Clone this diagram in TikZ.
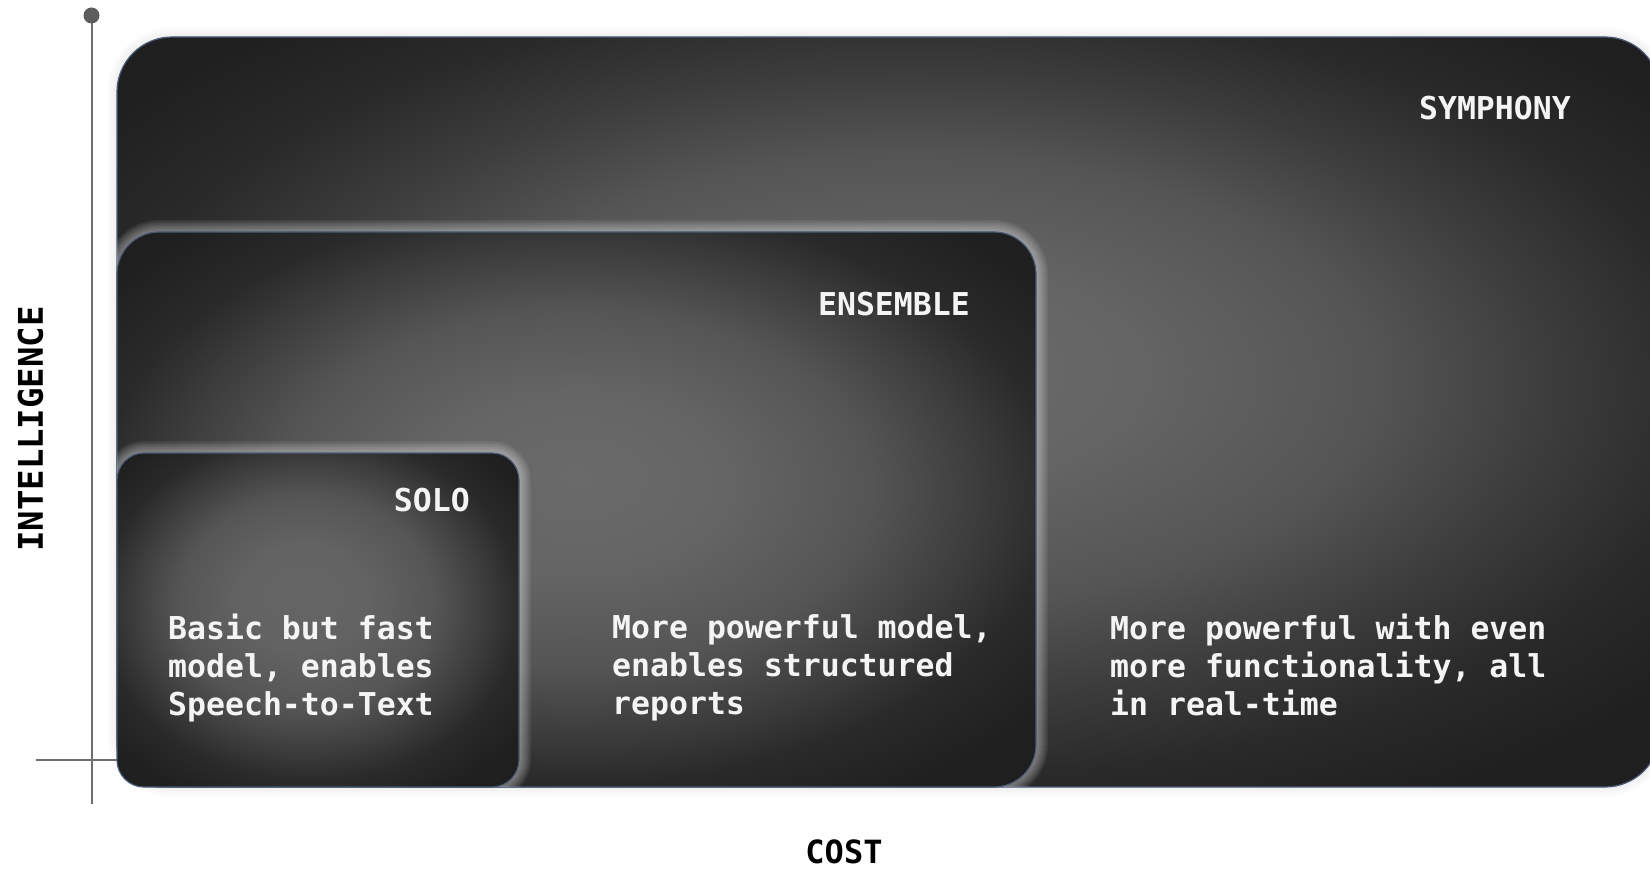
\documentclass[tikz,border=0pt]{standalone}
\usepackage{fontspec}
\newfontfamily\monob{DejaVu Sans Mono}
\definecolor{boxedge}{HTML}{4B5B75}
\definecolor{axisgray}{HTML}{6E6E6E}
\definecolor{txt}{HTML}{F4F4F4}
\definecolor{g0}{HTML}{6A6A6A}
\definecolor{g1}{HTML}{656565}
\definecolor{g2}{HTML}{555555}
\definecolor{g3}{HTML}{3C3C3C}
\definecolor{g4}{HTML}{2A2A2A}
\definecolor{g5}{HTML}{1F1F1F}
\pgfdeclareradialshading{symshade}{\pgfpoint{1bp}{3bp}}{color(0bp)=(g0); color(7bp)=(g1); color(15bp)=(g2); color(21bp)=(g3); color(26bp)=(g4); color(32bp)=(g5); color(50bp)=(g5)}
\pgfdeclareradialshading{ensshade}{\pgfpoint{0bp}{3bp}}{color(0bp)=(g0); color(8bp)=(g1); color(16bp)=(g2); color(22bp)=(g3); color(26bp)=(g4); color(32bp)=(g5); color(50bp)=(g5)}
\pgfdeclareradialshading{soloshade}{\pgfpoint{-2bp}{4bp}}{color(0bp)=(g1); color(8bp)=(g1!85!g2); color(16bp)=(g2); color(22bp)=(g3); color(26bp)=(g4); color(32bp)=(g5); color(50bp)=(g5)}
\tikzset{
  boxborder/.style={draw=boxedge, line width=1.2pt},
  title/.style={text=txt, font=\monob\bfseries\fontsize{31.5}{38}\selectfont, inner sep=0pt, anchor=base east},
  body/.style={text=txt, font=\monob\bfseries\fontsize{31.5}{38}\selectfont, inner sep=0pt, anchor=north west, align=left},
  axislabel/.style={text=black, font=\monob\bfseries\fontsize{34}{40}\selectfont, inner sep=0pt},
  axisline/.style={draw=axisgray, line width=2pt},
}
\begin{document}
\begin{tikzpicture}[x=1pt,y=-1pt]
\useasboundingbox (0,0) rectangle (1650,869);
\fill[white] (0,0) rectangle (1650,869);
% axes
\coordinate (ytop) at (91.5,15.5);
\coordinate (ybot) at (91.5,804);
\coordinate (xl) at (36,760);
\coordinate (xr) at (125,760);
\draw[axisline] (ytop) -- (ybot);
\draw[axisline] (xl) -- (xr);
\node[circle, fill=axisgray!85!black, minimum size=16pt, inner sep=0pt] (dot) at (ytop) {};
% outer faint halo of symphony
\foreach \w in {4,8,12,16,20}{
  \draw[black, opacity=0.012, line width=\w pt, rounded corners=55pt] (117,37) rectangle (1660,787);
}
% SYMPHONY
\shade[shading=symshade, rounded corners=55pt] (117,37) rectangle (1660,787);
\draw[boxborder, rounded corners=55pt] (117,37) rectangle (1660,787);
% ENSEMBLE halo
\begin{scope}
\clip[rounded corners=55pt] (117,37) rectangle (1660,787);
\foreach \w in {3,6,9,12,15,18,21,24}{
  \draw[white, opacity=0.06, line width=\w pt, rounded corners=42pt] (117,232) rectangle (1036,787);
}
\end{scope}
\shade[shading=ensshade, rounded corners=42pt] (117,232) rectangle (1036,787);
\draw[boxborder, rounded corners=42pt] (117,232) rectangle (1036,787);
% SOLO halo
\begin{scope}
\clip[rounded corners=42pt] (117,232) rectangle (1036,787);
\foreach \w in {3,6,9,12,15,18,21,24}{
  \draw[white, opacity=0.06, line width=\w pt, rounded corners=27pt] (117,453) rectangle (519,787);
}
\end{scope}
\shade[shading=soloshade, rounded corners=27pt] (117,453) rectangle (519,787);
\draw[boxborder, rounded corners=27pt] (117,453) rectangle (519,787);
% titles
\node[title] (tsym) at (1571,120) {SYMPHONY};
\node[title] (tens) at (970,315) {ENSEMBLE};
\node[title] (tsolo) at (470,511) {SOLO};
% bodies
\node[body] (bsolo) at (168,614) {Basic but fast\\model, enables\\Speech-to-Text};
\node[body] (bens) at (612,614) {More powerful model,\\enables structured\\reports};
\node[body] (bsym) at (1110,614) {More powerful with even\\more functionality, all\\in real-time};
% axis labels
\node[axislabel, rotate=90] (ylab) at (30.5,429) {INTELLIGENCE};
\node[axislabel, font=\monob\bfseries\fontsize{32}{38}\selectfont, anchor=base] (xlab) at (844,863) {COST};
\end{tikzpicture}
\end{document}
